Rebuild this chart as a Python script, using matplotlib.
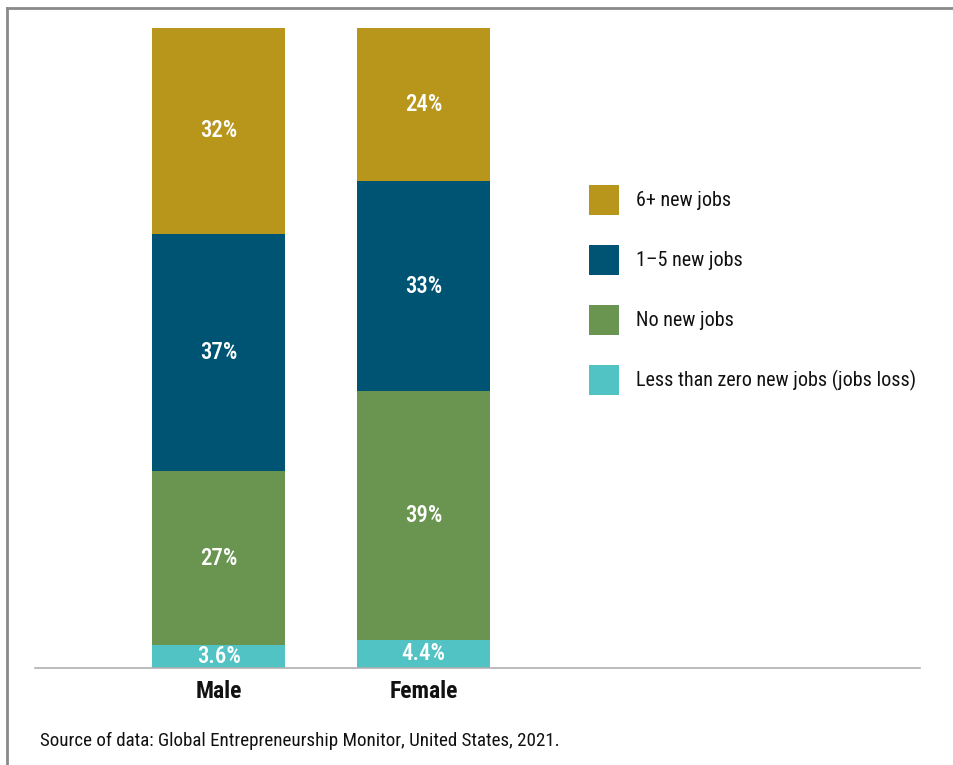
import matplotlib
matplotlib.use("Agg")
import matplotlib.pyplot as plt
from matplotlib import font_manager
from matplotlib.lines import Line2D
from matplotlib.patches import Patch

# --- data -------------------------------------------------------------
categories = ["Male", "Female"]
series_names = ["Less than zero new jobs (jobs loss)", "No new jobs",
                "1\u20135 new jobs", "6+ new jobs"]
loss_jobs = [3.6, 4.4]
no_jobs = [27, 39]
small_jobs = [37, 33]
big_jobs = [32, 24]
value_labels = [["3.6%", "4.4%"], ["27%", "39%"], ["37%", "33%"], ["32%", "24%"]]
colors = ["#52C3C4", "#699550", "#005473", "#B8961C"]
source_text = "Source of data: Global Entrepreneurship Monitor, United States, 2021."

# --- font: a condensed sans ------------------------------------------------
available = {f.name for f in font_manager.fontManager.ttflist}
family = "Liberation Sans"
for cand in ["Roboto Condensed", "Archivo Narrow", "Barlow Condensed",
             "Fira Sans Condensed", "PT Sans Narrow", "Sofia Sans Condensed"]:
    if cand in available:
        family = cand
        break
plt.rcParams["font.family"] = [family, "DejaVu Sans"]

W, H = 954, 765
DPI = 100
fig = plt.figure(figsize=(W / DPI, H / DPI), dpi=DPI)


def px2pt(px):
    return px * 72.0 / DPI


# axes spans the baseline region
left_px, right_px, top_px, bottom_px = 35, 920, 28, 668
ax = fig.add_axes([left_px / W, 1 - bottom_px / H,
                   (right_px - left_px) / W, (bottom_px - top_px) / H])

# 100% stacked: each column is scaled to its own total
x = list(range(len(categories)))
stack = [loss_jobs, no_jobs, small_jobs, big_jobs]
totals = [sum(col) for col in zip(*stack)]
bottom = [0.0] * len(categories)
for vals, col, labs in zip(stack, colors, value_labels):
    shares = [v / t * 100 for v, t in zip(vals, totals)]
    ax.bar(x, shares, width=0.65, bottom=bottom, color=col, linewidth=0)
    for xi, v, b, lab in zip(x, shares, bottom, labs):
        ax.text(xi, b + v / 2, lab, ha="center", va="center",
                color="white", fontsize=16.5, fontweight="medium")
    bottom = [b + v for b, v in zip(bottom, shares)]

ax.set_ylim(0, 100)
ax.set_xlim(-0.895, 3.42)
for s in ["top", "right", "left"]:
    ax.spines[s].set_visible(False)
ax.spines["bottom"].set_color("#b0b0b0")
ax.spines["bottom"].set_linewidth(1.2)
ax.set_yticks([])
ax.set_xticks(x)
ax.set_xticklabels(categories, fontsize=17, fontweight="bold", color="#111111")
ax.tick_params(axis="x", length=0, pad=9)

# legend, top entry first; square swatches of 30 px with a 60 px row pitch
leg_fs = 14.5
swatch = px2pt(30)
pitch = px2pt(60)
hh = (swatch / leg_fs - 0.245) / 0.65
handles = [Patch(facecolor=c, edgecolor="none") for c in colors[::-1]]
fig.legend(handles, series_names[::-1], loc="upper left",
           bbox_to_anchor=(589 / W, 1 - 185 / H), frameon=False,
           fontsize=leg_fs, handlelength=swatch / leg_fs, handleheight=hh,
           labelspacing=(pitch - swatch) / leg_fs,
           handletextpad=px2pt(17) / leg_fs, borderpad=0, borderaxespad=0,
           labelcolor="#111111")

fig.text(40 / W, 1 - 741 / H, source_text, fontsize=13.7, color="#111111",
         ha="left", va="center")

# frame lines along the top and left edges
fig.add_artist(Line2D([7.5 / W, 1], [1 - 7.5 / H, 1 - 7.5 / H],
                      transform=fig.transFigure, color="#8a8a8a", lw=2))
fig.add_artist(Line2D([7.5 / W, 7.5 / W], [0, 1 - 7.5 / H],
                      transform=fig.transFigure, color="#8a8a8a", lw=2))

fig.savefig("out.png", dpi=DPI)
